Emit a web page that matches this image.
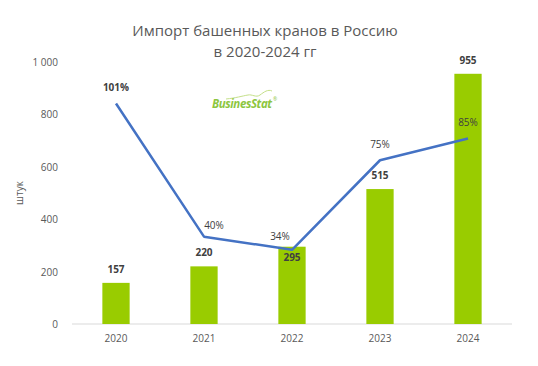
<!DOCTYPE html>
<html>
<head>
<meta charset="utf-8">
<script src="https://cdn.jsdelivr.net/npm/d3@7"></script>
<style>
  body { margin: 0; background: #fff; }
  text { font-family: "Open Sans", "Liberation Sans", sans-serif; }
</style>
</head>
<body>
<div id="chart"></div>
<script>
const width = 538;
const height = 366;

// data
const years = ["2020", "2021", "2022", "2023", "2024"];
const imports = [157, 220, 295, 515, 955];
const growth = [101, 40, 34, 75, 85];
const yTicks = [0, 200, 400, 600, 800, 1000];

const margin = { top: 62, right: 26, bottom: 42, left: 72 };

const svg = d3
  .select("#chart")
  .append("svg")
  .attr("width", width)
  .attr("height", height);

const x = d3
  .scaleBand()
  .domain(years)
  .range([margin.left, width - margin.right])
  .paddingInner(0.69)
  .paddingOuter(0.345);

const y = d3
  .scaleLinear()
  .domain([0, 1000])
  .range([height - margin.bottom, margin.top]);

// secondary (hidden) axis for the percentages
const y2 = d3
  .scaleLinear()
  .domain([0, 120])
  .range([height - margin.bottom, margin.top]);

// title
svg
  .append("text")
  .attr("x", 265)
  .attr("y", 36)
  .attr("text-anchor", "middle")
  .attr("font-size", 15)
  .attr("fill", "#595959")
  .text("Импорт башенных кранов в Россию");

svg
  .append("text")
  .attr("x", 265)
  .attr("y", 57)
  .attr("text-anchor", "middle")
  .attr("font-size", 15)
  .attr("fill", "#595959")
  .text("в 2020-2024 гг");

// y axis labels
svg
  .append("g")
  .selectAll("text")
  .data(yTicks)
  .enter()
  .append("text")
  .attr("x", 58)
  .attr("y", (d) => y(d) + 4)
  .attr("text-anchor", "end")
  .attr("font-size", 10)
  .attr("fill", "#595959")
  .text((d) => d3.format(",")(d).replace(",", " "));

svg
  .append("text")
  .attr("transform", `translate(23,${(y(0) + y(1000)) / 2}) rotate(-90)`)
  .attr("text-anchor", "middle")
  .attr("font-size", 10)
  .attr("fill", "#595959")
  .text("штук");

// x axis line
svg
  .append("line")
  .attr("x1", margin.left)
  .attr("x2", width - margin.right)
  .attr("y1", y(0))
  .attr("y2", y(0))
  .attr("stroke", "#d9d9d9")
  .attr("stroke-width", 1);

svg
  .append("g")
  .selectAll("text")
  .data(years)
  .enter()
  .append("text")
  .attr("x", (d) => x(d) + x.bandwidth() / 2)
  .attr("y", y(0) + 18)
  .attr("text-anchor", "middle")
  .attr("font-size", 10)
  .attr("fill", "#595959")
  .text((d) => d);

// bars
svg
  .append("g")
  .selectAll("rect")
  .data(imports)
  .enter()
  .append("rect")
  .attr("x", (d, i) => x(years[i]))
  .attr("y", (d) => y(d))
  .attr("width", x.bandwidth())
  .attr("height", (d) => y(0) - y(d))
  .attr("fill", "#99cc00");

// logo
const logo = svg.append("g").attr("transform", "translate(212,108)");
logo
  .append("path")
  .attr("d", "M14,-9 C24,-10 30,-12 36,-13 C40,-14 44,-10 48,-13 C52,-16 56,-19 60,-17")
  .attr("fill", "none")
  .attr("stroke", "#c5e08a")
  .attr("stroke-width", 1);
logo
  .append("text")
  .attr("font-size", 11.5)
  .attr("font-weight", "bold")
  .attr("font-style", "italic")
  .attr("fill", "#8dc63f")
  .attr("letter-spacing", -0.4)
  .text("BusinesStat");
logo
  .append("text")
  .attr("x", 61)
  .attr("y", -7)
  .attr("font-size", 5)
  .attr("fill", "#8dc63f")
  .text("®");

// line
const line = d3
  .line()
  .x((d, i) => x(years[i]) + x.bandwidth() / 2)
  .y((d) => y2(d));

svg
  .append("path")
  .datum(growth)
  .attr("d", line)
  .attr("fill", "none")
  .attr("stroke", "#4472c4")
  .attr("stroke-width", 2.5)
  .attr("stroke-linejoin", "round");

// bar value labels
svg
  .append("g")
  .selectAll("text")
  .data(imports)
  .enter()
  .append("text")
  .attr("x", (d, i) => x(years[i]) + x.bandwidth() / 2)
  .attr("y", (d, i) => (i === 2 ? y(d) + 14 : y(d) - 10))
  .attr("text-anchor", "middle")
  .attr("font-size", 10)
  .attr("font-weight", "bold")
  .attr("fill", "#404040")
  .text((d) => d);

// percentage labels
const pctOffset = [
  [0, -12],
  [10, -8],
  [-12, -10],
  [0, -12],
  [0, -12],
];

svg
  .append("g")
  .selectAll("text")
  .data(growth)
  .enter()
  .append("text")
  .attr("x", (d, i) => x(years[i]) + x.bandwidth() / 2 + pctOffset[i][0])
  .attr("y", (d, i) => y2(d) + pctOffset[i][1])
  .attr("text-anchor", "middle")
  .attr("font-size", 10)
  .attr("font-weight", (d, i) => (i === 0 ? "bold" : "normal"))
  .attr("fill", "#404040")
  .text((d) => d + "%");
</script>
</body>
</html>
